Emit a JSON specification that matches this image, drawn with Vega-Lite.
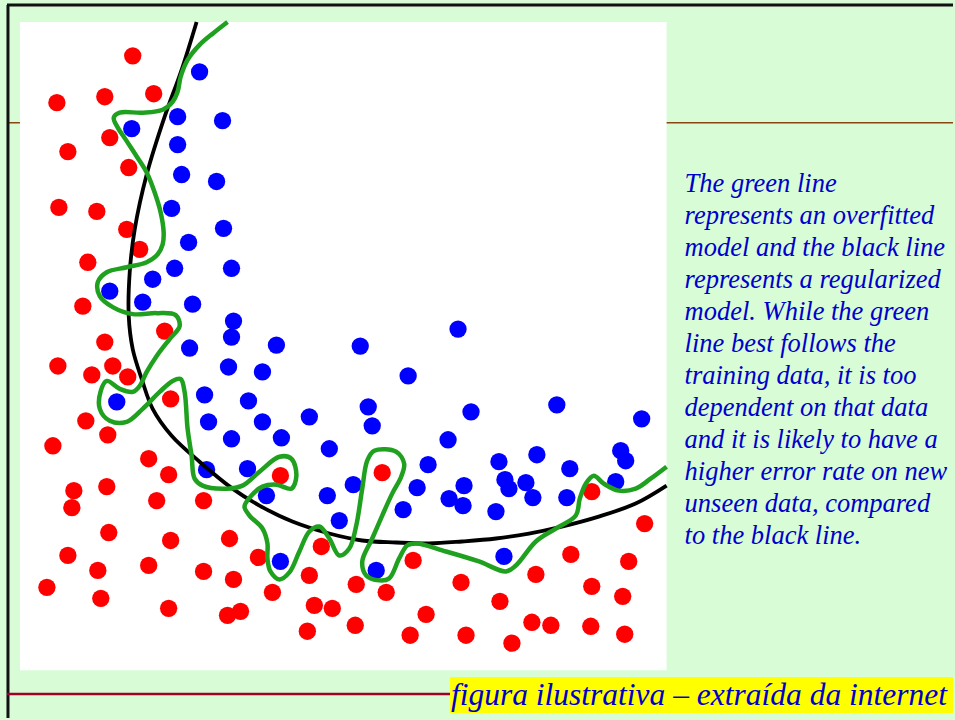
{
  "$schema": "https://vega.github.io/schema/vega-lite/v6.json",
  "width": 955,
  "height": 720,
  "autosize": {"type": "fit", "contains": "padding"},
  "padding": 0,
  "background": "#d8fcd6",
  "config": {"view": {"stroke": null}},
  "data": {"values": [{}]},
  "datasets": {
    "pts": [
      {"x":113,"y":616,"c":"red"},{"x":37,"y":569,"c":"red"},{"x":85,"y":575,"c":"red"},{"x":134,"y":578,"c":"red"},{"x":90,"y":534,"c":"red"},{"x":48,"y":520,"c":"red"},{"x":109,"y":504,"c":"red"},{"x":39,"y":464,"c":"red"},{"x":77,"y":460,"c":"red"},{"x":107,"y":442,"c":"red"},{"x":120,"y":422,"c":"red"},{"x":68,"y":409,"c":"red"},{"x":63,"y":365,"c":"red"},{"x":145,"y":340,"c":"red"},{"x":85,"y":329,"c":"red"},{"x":38,"y":305,"c":"red"},{"x":72,"y":296,"c":"red"},{"x":93,"y":305,"c":"red"},{"x":108,"y":294,"c":"red"},{"x":151,"y":272,"c":"red"},{"x":66,"y":250,"c":"red"},{"x":88,"y":236,"c":"red"},{"x":33,"y":225,"c":"red"},{"x":129,"y":212,"c":"red"},{"x":149,"y":196,"c":"red"},{"x":261,"y":195,"c":"red"},{"x":87,"y":184,"c":"red"},{"x":54,"y":180,"c":"red"},{"x":52,"y":163,"c":"red"},{"x":137,"y":170,"c":"red"},{"x":184,"y":170,"c":"red"},{"x":89,"y":138,"c":"red"},{"x":151,"y":130,"c":"red"},{"x":210,"y":132,"c":"red"},{"x":48,"y":115,"c":"red"},{"x":78,"y":100,"c":"red"},{"x":129,"y":105,"c":"red"},{"x":184,"y":99,"c":"red"},{"x":214,"y":91,"c":"red"},{"x":239,"y":113,"c":"red"},{"x":27,"y":83,"c":"red"},{"x":81,"y":72,"c":"red"},{"x":149,"y":62,"c":"red"},{"x":208,"y":55,"c":"red"},{"x":221,"y":59,"c":"red"},{"x":253,"y":78,"c":"red"},{"x":290,"y":95,"c":"red"},{"x":302,"y":124,"c":"red"},{"x":295,"y":65,"c":"red"},{"x":313,"y":62,"c":"red"},{"x":288,"y":39,"c":"red"},{"x":363,"y":198,"c":"red"},{"x":394,"y":110,"c":"red"},{"x":442,"y":88,"c":"red"},{"x":337,"y":86,"c":"red"},{"x":367,"y":78,"c":"red"},{"x":407,"y":56,"c":"red"},{"x":481,"y":69,"c":"red"},{"x":517,"y":96,"c":"red"},{"x":552,"y":116,"c":"red"},{"x":610,"y":109,"c":"red"},{"x":573,"y":84,"c":"red"},{"x":604,"y":74,"c":"red"},{"x":336,"y":45,"c":"red"},{"x":391,"y":35,"c":"red"},{"x":447,"y":35,"c":"red"},{"x":513,"y":48,"c":"red"},{"x":532,"y":45,"c":"red"},{"x":572,"y":44,"c":"red"},{"x":606,"y":36,"c":"red"},{"x":493,"y":27,"c":"red"},{"x":573,"y":179,"c":"red"},{"x":626,"y":147,"c":"red"},
      {"x":180,"y":600,"c":"blue"},{"x":158,"y":555,"c":"blue"},{"x":203,"y":551,"c":"blue"},{"x":112,"y":543,"c":"blue"},{"x":158,"y":527,"c":"blue"},{"x":162,"y":497,"c":"blue"},{"x":197,"y":490,"c":"blue"},{"x":152,"y":463,"c":"blue"},{"x":204,"y":443,"c":"blue"},{"x":169,"y":429,"c":"blue"},{"x":155,"y":403,"c":"blue"},{"x":212,"y":403,"c":"blue"},{"x":133,"y":392,"c":"blue"},{"x":90,"y":380,"c":"blue"},{"x":123,"y":369,"c":"blue"},{"x":173,"y":367,"c":"blue"},{"x":214,"y":350,"c":"blue"},{"x":212,"y":334,"c":"blue"},{"x":170,"y":323,"c":"blue"},{"x":257,"y":326,"c":"blue"},{"x":209,"y":304,"c":"blue"},{"x":243,"y":299,"c":"blue"},{"x":97,"y":269,"c":"blue"},{"x":185,"y":276,"c":"blue"},{"x":229,"y":270,"c":"blue"},{"x":290,"y":254,"c":"blue"},{"x":189,"y":249,"c":"blue"},{"x":243,"y":249,"c":"blue"},{"x":212,"y":232,"c":"blue"},{"x":262,"y":233,"c":"blue"},{"x":310,"y":222,"c":"blue"},{"x":187,"y":201,"c":"blue"},{"x":228,"y":202,"c":"blue"},{"x":247,"y":175,"c":"blue"},{"x":308,"y":175,"c":"blue"},{"x":320,"y":150,"c":"blue"},{"x":261,"y":109,"c":"blue"},{"x":341,"y":325,"c":"blue"},{"x":389,"y":295,"c":"blue"},{"x":439,"y":342,"c":"blue"},{"x":349,"y":264,"c":"blue"},{"x":353,"y":245,"c":"blue"},{"x":452,"y":259,"c":"blue"},{"x":538,"y":266,"c":"blue"},{"x":623,"y":252,"c":"blue"},{"x":429,"y":231,"c":"blue"},{"x":409,"y":206,"c":"blue"},{"x":480,"y":209,"c":"blue"},{"x":518,"y":216,"c":"blue"},{"x":602,"y":220,"c":"blue"},{"x":607,"y":210,"c":"blue"},{"x":551,"y":202,"c":"blue"},{"x":597,"y":189,"c":"blue"},{"x":334,"y":186,"c":"blue"},{"x":398,"y":183,"c":"blue"},{"x":445,"y":185,"c":"blue"},{"x":430,"y":172,"c":"blue"},{"x":444,"y":165,"c":"blue"},{"x":486,"y":191,"c":"blue"},{"x":490,"y":182,"c":"blue"},{"x":507,"y":188,"c":"blue"},{"x":514,"y":173,"c":"blue"},{"x":477,"y":159,"c":"blue"},{"x":384,"y":161,"c":"blue"},{"x":548,"y":173,"c":"blue"},{"x":485,"y":114,"c":"blue"},{"x":357,"y":100,"c":"blue"}
    ],
    "black": [
      {"i":0,"x":177,"y":650},{"i":1,"x":162,"y":602},{"i":2,"x":145,"y":555},{"i":3,"x":127,"y":497},{"i":4,"x":115,"y":442},{"i":5,"x":110,"y":399},{"i":6,"x":109,"y":355},{"i":7,"x":113,"y":322},{"i":8,"x":122,"y":292},{"i":9,"x":133,"y":262},{"i":10,"x":152,"y":235},{"i":11,"x":180,"y":209},{"i":12,"x":213,"y":182},{"i":13,"x":240,"y":165},{"i":14,"x":273,"y":149},{"i":15,"x":310,"y":137},{"i":16,"x":343,"y":130},{"i":17,"x":377,"y":128},{"i":18,"x":410,"y":127},{"i":19,"x":443,"y":129},{"i":20,"x":477,"y":132},{"i":21,"x":510,"y":137},{"i":22,"x":543,"y":144},{"i":23,"x":580,"y":154},{"i":24,"x":617,"y":167},{"i":25,"x":648,"y":185}
    ],
    "green": [
      {"i":0,"x":208,"y":650},{"i":1,"x":194,"y":639},{"i":2,"x":180,"y":627},{"i":3,"x":168,"y":612},{"i":4,"x":161,"y":595},{"i":5,"x":158,"y":580},{"i":6,"x":153,"y":570},{"i":7,"x":143,"y":562},{"i":8,"x":123,"y":559},{"i":9,"x":100,"y":559},{"i":10,"x":94,"y":554},{"i":11,"x":98,"y":544},{"i":12,"x":106,"y":532},{"i":13,"x":117,"y":515},{"i":14,"x":127,"y":499},{"i":15,"x":135,"y":479},{"i":16,"x":141,"y":459},{"i":17,"x":144,"y":439},{"i":18,"x":143,"y":427},{"i":19,"x":138,"y":417},{"i":20,"x":127,"y":409},{"i":21,"x":107,"y":404},{"i":22,"x":87,"y":399},{"i":23,"x":78,"y":389},{"i":24,"x":80,"y":375},{"i":25,"x":93,"y":364},{"i":26,"x":113,"y":357},{"i":27,"x":137,"y":358},{"i":28,"x":156,"y":356},{"i":29,"x":160,"y":345},{"i":30,"x":150,"y":332},{"i":31,"x":137,"y":315},{"i":32,"x":127,"y":299},{"i":33,"x":120,"y":285},{"i":34,"x":113,"y":279},{"i":35,"x":100,"y":282},{"i":36,"x":87,"y":290},{"i":37,"x":81,"y":280},{"i":38,"x":80,"y":262},{"i":39,"x":90,"y":250},{"i":40,"x":107,"y":249},{"i":41,"x":123,"y":262},{"i":42,"x":140,"y":279},{"i":43,"x":153,"y":290},{"i":44,"x":161,"y":292},{"i":45,"x":165,"y":279},{"i":46,"x":168,"y":242},{"i":47,"x":172,"y":215},{"i":48,"x":175,"y":192},{"i":49,"x":183,"y":185},{"i":50,"x":207,"y":182},{"i":51,"x":223,"y":185},{"i":52,"x":240,"y":199},{"i":53,"x":260,"y":214},{"i":54,"x":272,"y":212},{"i":55,"x":277,"y":195},{"i":56,"x":272,"y":182},{"i":57,"x":257,"y":186},{"i":58,"x":243,"y":184},{"i":59,"x":232,"y":175},{"i":60,"x":225,"y":164},{"i":61,"x":230,"y":155},{"i":62,"x":243,"y":142},{"i":63,"x":248,"y":127},{"i":64,"x":248,"y":112},{"i":65,"x":251,"y":99},{"i":66,"x":260,"y":91},{"i":67,"x":270,"y":98},{"i":68,"x":280,"y":119},{"i":69,"x":290,"y":139},{"i":70,"x":300,"y":144},{"i":71,"x":310,"y":132},{"i":72,"x":320,"y":115},{"i":73,"x":330,"y":122},{"i":74,"x":337,"y":145},{"i":75,"x":343,"y":182},{"i":76,"x":348,"y":210},{"i":77,"x":355,"y":220},{"i":78,"x":377,"y":219},{"i":79,"x":385,"y":207},{"i":80,"x":382,"y":194},{"i":81,"x":373,"y":177},{"i":82,"x":363,"y":155},{"i":83,"x":353,"y":132},{"i":84,"x":343,"y":109},{"i":85,"x":347,"y":95},{"i":86,"x":360,"y":90},{"i":87,"x":370,"y":92},{"i":88,"x":380,"y":112},{"i":89,"x":388,"y":125},{"i":90,"x":397,"y":127},{"i":91,"x":427,"y":119},{"i":92,"x":460,"y":109},{"i":93,"x":487,"y":99},{"i":94,"x":497,"y":105},{"i":95,"x":517,"y":129},{"i":96,"x":537,"y":142},{"i":97,"x":557,"y":155},{"i":98,"x":561,"y":172},{"i":99,"x":567,"y":187},{"i":100,"x":575,"y":195},{"i":101,"x":585,"y":187},{"i":102,"x":600,"y":180},{"i":103,"x":617,"y":182},{"i":104,"x":632,"y":192},{"i":105,"x":648,"y":204}
    ]
  },
  "encoding": {
    "x": {"type": "quantitative", "scale": {"domain": [-20, 935], "nice": false, "zero": false}, "axis": null},
    "y": {"type": "quantitative", "scale": {"domain": [-48, 672], "nice": false, "zero": false}, "axis": null}
  },
  "layer": [
    {"mark": {"type": "rule", "color": "#8b4513", "strokeWidth": 1.5},
     "encoding": {"x": {"datum": -13}, "x2": {"datum": 935}, "y": {"datum": 549}}},
    {"mark": {"type": "rect", "fill": "#ffffff"},
     "encoding": {"x": {"datum": 0}, "x2": {"datum": 648}, "y": {"datum": 0}, "y2": {"datum": 650}}},
    {"mark": {"type": "rule", "color": "#111111", "strokeWidth": 3},
     "encoding": {"x": {"datum": -13}, "x2": {"datum": 935}, "y": {"datum": 667}}},
    {"mark": {"type": "rule", "color": "#111111", "strokeWidth": 3},
     "encoding": {"x": {"datum": -12}, "y": {"datum": -48}, "y2": {"datum": 667}}},
    {"mark": {"type": "rule", "color": "#a0002a", "strokeWidth": 2.5},
     "encoding": {"x": {"datum": -13}, "x2": {"datum": 431}, "y": {"datum": -24}}},
    {"mark": {"type": "rect", "fill": "#ffff00"},
     "encoding": {"x": {"datum": 431}, "x2": {"datum": 935}, "y": {"datum": -7}, "y2": {"datum": -43}}},
    {"mark": {"type": "text", "text": "figura ilustrativa – extraída da internet", "font": "Liberation Serif", "fontStyle": "italic", "fontSize": 31.5, "color": "#0000cc", "align": "right", "baseline": "alphabetic"},
     "encoding": {"x": {"datum": 929}, "y": {"datum": -35}}},
    {"mark": {"type": "text", "text": ["The green line", "represents an overfitted", "model and the black line", "represents a regularized", "model. While the green", "line best follows the", "training data, it is too", "dependent on that data", "and it is likely to have a", "higher error rate on new", "unseen data, compared", "to the black line."], "font": "Liberation Serif", "fontStyle": "italic", "fontSize": 26.5, "lineHeight": 32, "color": "#0000cc", "align": "left", "baseline": "alphabetic"},
     "encoding": {"x": {"datum": 666}, "y": {"datum": 479}}},
    {"data": {"name": "pts"},
     "mark": {"type": "point", "filled": true, "shape": "circle", "size": 300, "opacity": 1},
     "encoding": {
       "x": {"field": "x", "type": "quantitative"},
       "y": {"field": "y", "type": "quantitative"},
       "color": {"field": "c", "type": "nominal", "scale": {"domain": ["red", "blue"], "range": ["#ff0000", "#0000ff"]}, "legend": null}
     }},
    {"data": {"name": "black"},
     "mark": {"type": "line", "color": "#000000", "strokeWidth": 3.8, "interpolate": "catmull-rom"},
     "encoding": {
       "x": {"field": "x", "type": "quantitative"},
       "y": {"field": "y", "type": "quantitative"},
       "order": {"field": "i", "type": "quantitative"}
     }},
    {"data": {"name": "green"},
     "mark": {"type": "line", "color": "#1fa01f", "strokeWidth": 4.5, "interpolate": "catmull-rom"},
     "encoding": {
       "x": {"field": "x", "type": "quantitative"},
       "y": {"field": "y", "type": "quantitative"},
       "order": {"field": "i", "type": "quantitative"}
     }}
  ]
}
